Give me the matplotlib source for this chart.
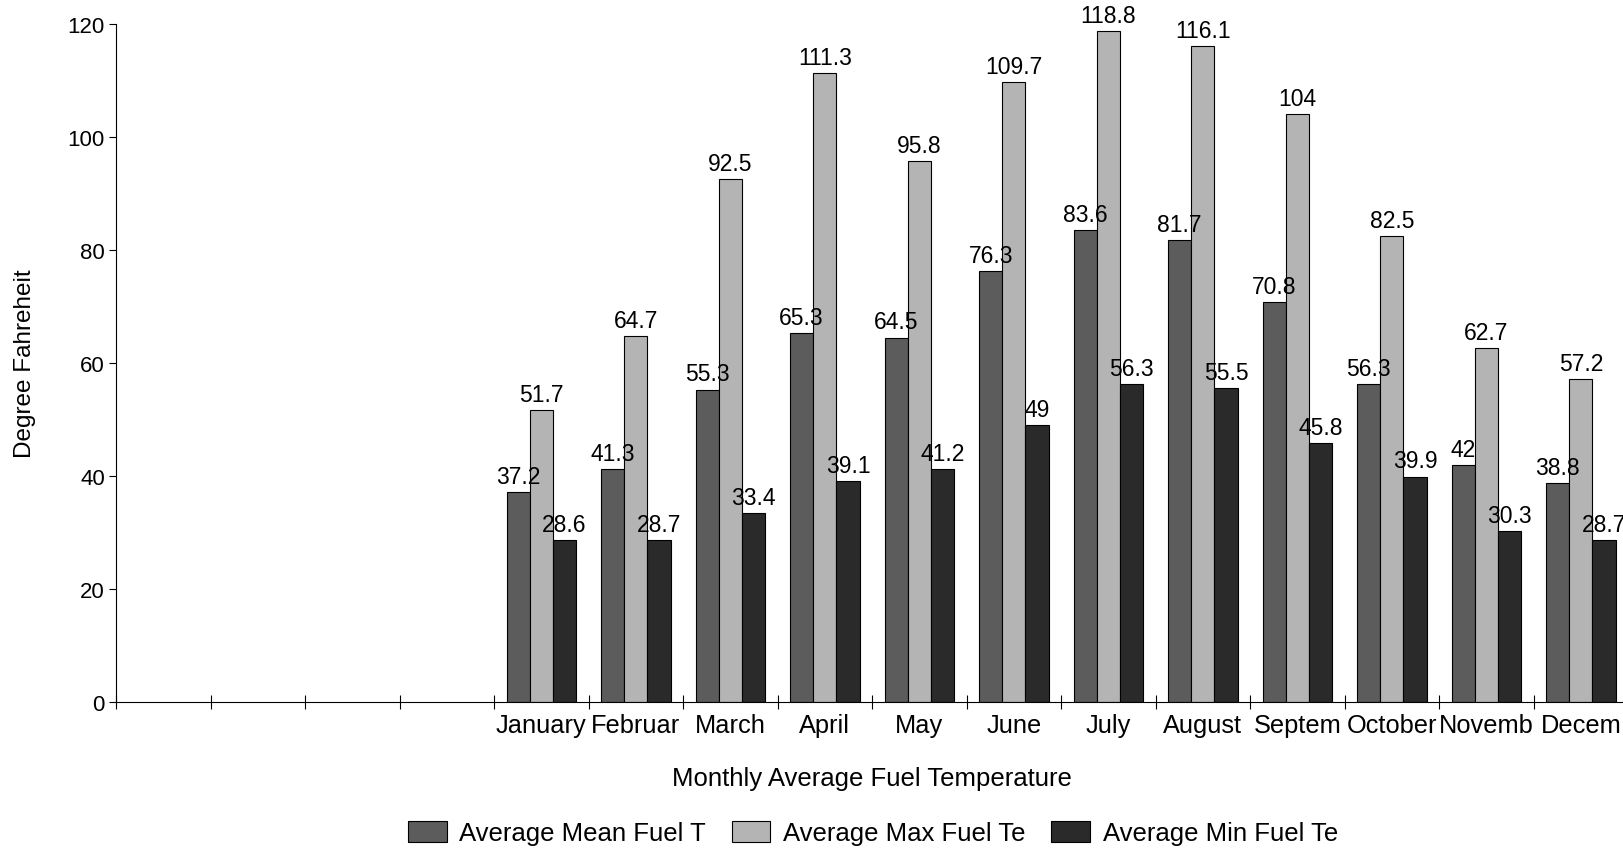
import matplotlib.pyplot as plt
import numpy as np

plt.rcParams['font.family'] = ['Liberation Sans', 'DejaVu Sans']

months = ['January', 'Februar', 'March', 'April', 'May', 'June', 'July',
          'August', 'Septem', 'October', 'Novemb', 'Decem']
mean_temp = [37.2, 41.3, 55.3, 65.3, 64.5, 76.3, 83.6, 81.7, 70.8, 56.3, 42, 38.8]
max_temp = [51.7, 64.7, 92.5, 111.3, 95.8, 109.7, 118.8, 116.1, 104, 82.5, 62.7, 57.2]
min_temp = [28.6, 28.7, 33.4, 39.1, 41.2, 49, 56.3, 55.5, 45.8, 39.9, 30.3, 28.7]
series_names = ['Average Mean Fuel T', 'Average Max Fuel Te', 'Average Min Fuel Te']
colors = ['#5c5c5c', '#b4b4b4', '#2a2a2a']

# the chart leaves 4 empty category slots before January
n_empty = 4
x = np.arange(len(months)) + n_empty
w = 0.245

fig = plt.figure(figsize=(16.23, 8.53), dpi=100)
ax = fig.add_axes([0.0715, 0.1758, 0.9316, 0.7949])

bars = []
for i, vals in enumerate([mean_temp, max_temp, min_temp]):
    b = ax.bar(x + (i - 1) * w, vals, w, color=colors[i], edgecolor='black',
               linewidth=0.8, label=series_names[i])
    ax.bar_label(b, labels=[f'{v:g}' for v in vals], padding=3, fontsize=16.5)
    bars.append(b)

ax.set_xlim(-0.5, 15.5)
ax.set_ylim(0, 120)
ax.set_yticks(range(0, 121, 20))

# boundary ticks without labels, month names on minor ticks
ax.set_xticks(np.arange(-0.5, 16, 1))
ax.set_xticklabels([])
ax.set_xticks(x, minor=True)
ax.set_xticklabels(months, minor=True, fontsize=18.3)
ax.tick_params(axis='x', which='major', direction='inout', length=10, width=0.8)
ax.tick_params(axis='x', which='minor', length=0, pad=8)
ax.tick_params(axis='y', direction='out', length=5, width=0.8, labelsize=16, pad=3)

for s in ['top', 'right']:
    ax.spines[s].set_visible(False)

ax.set_ylabel('Degree Fahreheit', fontsize=17.5)
ax.yaxis.set_label_coords(-0.053, 0.5)
ax.set_xlabel('Monthly Average Fuel Temperature', fontsize=18.5)
ax.xaxis.set_label_coords(0.5, -0.095)

fig.legend(handles=bars, labels=series_names, loc='center',
           bbox_to_anchor=(873 / 1623, 1 - 834 / 853), ncol=3, frameon=False,
           fontsize=18.5, handlelength=1.5, handleheight=0.9,
           handletextpad=0.5, columnspacing=1.0)

fig.savefig('out.png', dpi=100)
